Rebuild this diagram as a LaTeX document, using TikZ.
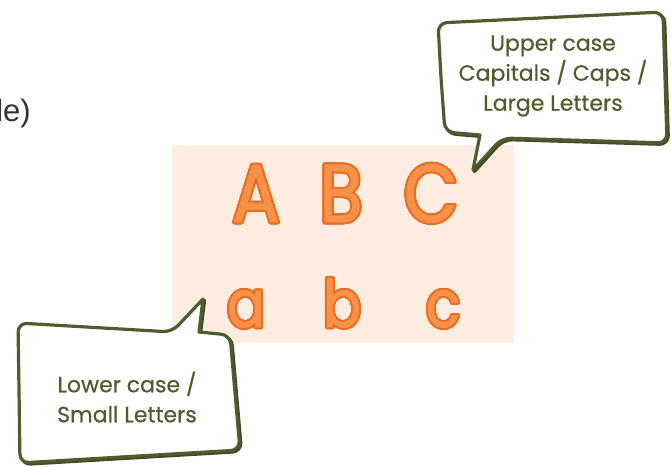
\documentclass[tikz,border=0pt]{standalone}
\usepackage{fontspec}
\setmainfont{Poppins}[FakeBold=0.6]
\newfontfamily\arialfont{Liberation Sans}
\newfontfamily\letterfont{Poppins}[FakeStretch=0.86,FakeBold=1.2]
\usepackage{contour}
\contournumber{32}
\definecolor{peach}{HTML}{FDECDF}
\definecolor{orfill}{HTML}{F7924A}
\definecolor{orline}{HTML}{F06A1E}
\definecolor{olive}{HTML}{4F5C2E}
\definecolor{darkgray}{HTML}{333333}
\begin{document}
\begin{tikzpicture}[x=1pt,y=-1pt,
  bubble/.style={draw=olive,fill=white,line width=3.2pt,line join=round},
  bubshadow/.style={draw=olive!80!black,line width=3.2pt,line join=round},
  bubtext/.style={text=olive,font=\fontsize{22}{30}\selectfont,align=center,inner sep=0pt},
  capl/.style={inner sep=0pt,font=\letterfont\fontsize{82}{82}\selectfont},
  lowl/.style={inner sep=0pt,font=\letterfont\fontsize{66}{66}\selectfont}]
\useasboundingbox (0,0) rectangle (671,466);
\contourlength{1.8pt}
% left cropped text
\begin{scope}
\clip (0,0) rectangle (671,466);
\node[anchor=base east,inner sep=0pt,text=darkgray,font=\arialfont\fontsize{31}{31}\selectfont] (frag) at (31,121) {le)};
\end{scope}
% peach panel
\fill[peach] (172,145) rectangle (514,343);
\node (panel) at (343,244) {};
% letters
\node[capl,anchor=base] (A) at (256,222) {\contour{orline}{\textcolor{orfill}{A}}};
\node[capl,anchor=base] (B) at (341,222) {\contour{orline}{\textcolor{orfill}{B}}};
\node[capl,anchor=base] (C) at (431,222) {\contour{orline}{\textcolor{orfill}{C}}};
\node[lowl,anchor=base] (a) at (246,327) {\contour{orline}{\textcolor{orfill}{a}}};
\node[lowl,anchor=base] (b) at (342,327) {\contour{orline}{\textcolor{orfill}{b}}};
\node[lowl,anchor=base] (c) at (443,327) {\contour{orline}{\textcolor{orfill}{c}}};
% upper bubble
\draw[bubshadow,shift={(1.5,1.5)}] (441,78) [rounded corners=9pt] -- (438,23) -- (663,12) -- (667,143) -- (502,138) [sharp corners] -- (473,170) -- (480,135) [rounded corners=9pt] -- (445,132) -- cycle;
\draw[bubble] (441,78) [rounded corners=9pt] -- (438,23) -- (663,12) -- (667,143) -- (502,138) [sharp corners] -- (473,170) -- (480,135) [rounded corners=9pt] -- (445,132) -- cycle;
\node[bubtext] (uptext) at (553,76) {Upper case\\Capitals / Caps /\\Large Letters};
% lower bubble
\draw[bubshadow,shift={(1.5,1.5)}] (19,390) [rounded corners=9pt] -- (18,323) -- (172,332) [sharp corners] -- (203,299) -- (199,332) [rounded corners=9pt] -- (230,335) -- (240,450) -- (20,463) -- cycle;
\draw[bubble] (19,390) [rounded corners=9pt] -- (18,323) -- (172,332) [sharp corners] -- (203,299) -- (199,332) [rounded corners=9pt] -- (230,335) -- (240,450) -- (20,463) -- cycle;
\node[bubtext] (lowtext) at (127,397) {Lower case /\\Small Letters};
\end{tikzpicture}
\end{document}
